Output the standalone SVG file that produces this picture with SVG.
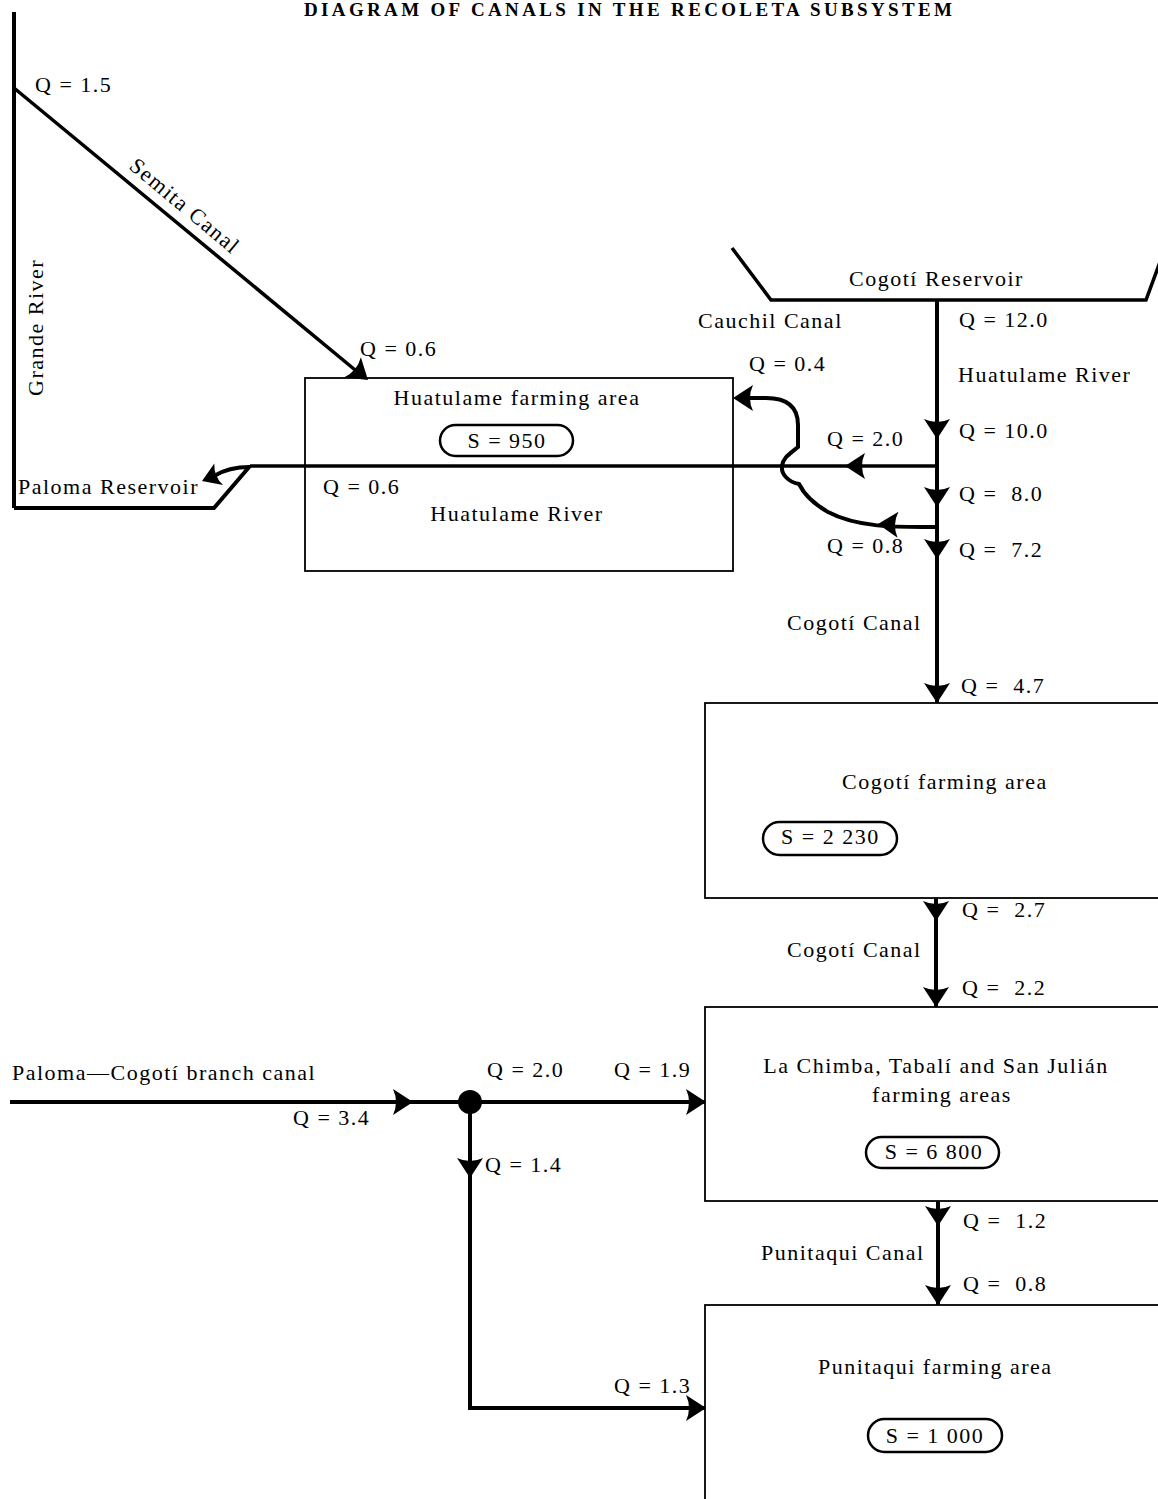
<svg xmlns="http://www.w3.org/2000/svg" xmlns:xlink="http://www.w3.org/1999/xlink" width="1158" height="1499" viewBox="0 0 1158 1499">
<style>
.t{font-family:"Liberation Serif",serif;font-size:22px;letter-spacing:1.5px;white-space:pre;fill:#000}
.c{text-anchor:middle}
.title{font-family:"Liberation Serif",serif;font-size:19px;font-weight:bold;fill:#000}
.ln{stroke:#000;fill:none;stroke-width:4;stroke-linejoin:miter}
.ln3{stroke:#000;fill:none;stroke-width:3.5}
.box{fill:none;stroke:#000;stroke-width:1.8}
.pill{fill:none;stroke:#000;stroke-width:2.5}
</style>
<defs>
<path id="ah" d="M0,0 L-20,-13 Q-14,0 -20,13 Z" fill="#000"/>
</defs>
<rect width="1158" height="1499" fill="#fff"/>
<text class="title" x="304" y="16" textLength="648" lengthAdjust="spacing">DIAGRAM OF CANALS IN THE RECOLETA SUBSYSTEM</text>

<g id="grande-river">
<path class="ln" d="M14,12 L14,508"/>
<text class="t" transform="translate(43,396) rotate(-90)">Grande River</text>
<text class="t" x="35" y="92">Q = 1.5</text>
</g>

<g id="paloma-reservoir">
<path class="ln" d="M14,508 L214,508 L250,466"/>
<text class="t" x="18" y="494">Paloma Reservoir</text>
</g>

<g id="huatulame-farming-area">
<rect class="box" x="305" y="378" width="428" height="193"/>
<text class="t c" x="517" y="405">Huatulame farming area</text>
<rect class="pill" x="440" y="425" width="133" height="31" rx="15.5"/>
<text class="t c" x="507" y="448">S = 950</text>
<text class="t c" x="517" y="521">Huatulame River</text>
</g>

<g id="cogoti-reservoir">
<path class="ln3" d="M732,248 L771,300 L1146,300 L1160,262"/>
<text class="t" x="849" y="286">Cogotí Reservoir</text>
</g>

<g id="cogoti-farming-area">
<rect class="box" x="705" y="703" width="470" height="195"/>
<text class="t" x="842" y="789">Cogotí farming area</text>
<rect class="pill" x="763" y="822" width="134" height="33" rx="16.5"/>
<text class="t" x="781" y="844">S = 2 230</text>
</g>

<g id="la-chimba-farming-areas">
<rect class="box" x="705" y="1007" width="470" height="194"/>
<text class="t c" x="936" y="1073">La Chimba, Tabalí and San Julián</text>
<text class="t c" x="942" y="1102">farming areas</text>
<rect class="pill" x="866" y="1137" width="133" height="31" rx="15.5"/>
<text class="t c" x="934" y="1159">S = 6 800</text>
</g>

<g id="punitaqui-farming-area">
<rect class="box" x="705" y="1305" width="470" height="220"/>
<text class="t" x="818" y="1374">Punitaqui farming area</text>
<rect class="pill" x="868" y="1419" width="134" height="33" rx="16.5"/>
<text class="t c" x="935" y="1443">S = 1 000</text>
</g>

<g id="connectors">
<!-- Semita canal -->
<path class="ln3" d="M14,88 L360,374"/>
<use xlink:href="#ah" transform="translate(368,380) rotate(39.6)"/>
<text class="t" transform="translate(128,168) rotate(39.8)">Semita Canal</text>
<text class="t" x="360" y="356">Q = 0.6</text>

<!-- Huatulame river to Paloma -->
<path class="ln3" d="M250,466 L937,466"/>
<use xlink:href="#ah" transform="translate(845,466) rotate(180)"/>
<path class="ln" d="M250,467 C232,467 222,471 214,476"/>
<use xlink:href="#ah" transform="translate(202,481) rotate(158) scale(0.9)"/>
<text class="t" x="323" y="494">Q = 0.6</text>
<text class="t" x="827" y="446">Q = 2.0</text>

<!-- main Huatulame river -->
<path class="ln" d="M937,300 L937,703"/>
<use xlink:href="#ah" transform="translate(937,439) rotate(90)"/>
<use xlink:href="#ah" transform="translate(937,507) rotate(90)"/>
<use xlink:href="#ah" transform="translate(937,559) rotate(90)"/>
<use xlink:href="#ah" transform="translate(937,703) rotate(90)"/>
<text class="t" x="959" y="327">Q = 12.0</text>
<text class="t" x="958" y="382">Huatulame River</text>
<text class="t" x="959" y="438">Q = 10.0</text>
<text class="t" x="959" y="501">Q =  8.0</text>
<text class="t" x="959" y="557">Q =  7.2</text>
<text class="t" x="787" y="630">Cogotí Canal</text>
<text class="t" x="961" y="693">Q =  4.7</text>

<!-- Cauchil canal with hop -->
<path class="ln" d="M937,527 C905,527 860,529 828,512 C812,503 804,494 799,484 C788,482 781,474 782,466 C783,457 791,453 798,447 L798,425 C798,408 788,398 766,398 L748,398"/>
<use xlink:href="#ah" transform="translate(733,398) rotate(180)"/>
<use xlink:href="#ah" transform="translate(878,524) rotate(182)"/>
<text class="t" x="698" y="328">Cauchil Canal</text>
<text class="t" x="749" y="371">Q = 0.4</text>
<text class="t" x="827" y="553">Q = 0.8</text>

<!-- Cogoti canal lower -->
<path class="ln" d="M936,898 L936,1007"/>
<use xlink:href="#ah" transform="translate(936,921) rotate(90)"/>
<use xlink:href="#ah" transform="translate(936,1007) rotate(90)"/>
<text class="t" x="962" y="917">Q =  2.7</text>
<text class="t" x="787" y="957">Cogotí Canal</text>
<text class="t" x="962" y="995">Q =  2.2</text>

<!-- Punitaqui canal -->
<path class="ln" d="M938,1201 L938,1305"/>
<use xlink:href="#ah" transform="translate(938,1226) rotate(90)"/>
<use xlink:href="#ah" transform="translate(938,1305) rotate(90)"/>
<text class="t" x="963" y="1228">Q =  1.2</text>
<text class="t" x="761" y="1260">Punitaqui Canal</text>
<text class="t" x="963" y="1291">Q =  0.8</text>

<!-- Paloma-Cogoti branch canal -->
<path class="ln" d="M10,1102 L705,1102"/>
<use xlink:href="#ah" transform="translate(413,1102)"/>
<use xlink:href="#ah" transform="translate(706,1102)"/>
<circle cx="470" cy="1102" r="12" fill="#000"/>
<path class="ln" d="M470,1102 L470,1408 L705,1408"/>
<use xlink:href="#ah" transform="translate(470,1178) rotate(90)"/>
<use xlink:href="#ah" transform="translate(706,1408)"/>
<text class="t" x="12" y="1080">Paloma—Cogotí branch canal</text>
<text class="t" x="293" y="1125">Q = 3.4</text>
<text class="t" x="487" y="1077">Q = 2.0</text>
<text class="t" x="614" y="1077">Q = 1.9</text>
<text class="t" x="485" y="1172">Q = 1.4</text>
<text class="t" x="614" y="1393">Q = 1.3</text>
</g>
</svg>
